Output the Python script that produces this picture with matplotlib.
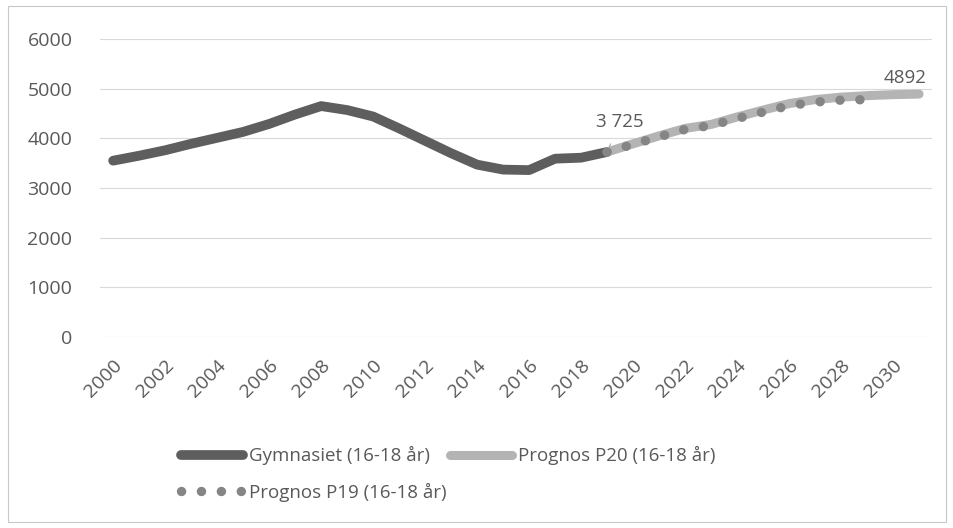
import matplotlib.pyplot as plt
from matplotlib.patches import Rectangle

plt.rcParams['font.family'] = ['Open Sans', 'DejaVu Sans']

years = list(range(2000, 2020))
gymnasiet = [3550, 3650, 3760, 3890, 4010, 4130, 4290, 4480, 4650, 4570, 4440,
             4200, 3950, 3700, 3470, 3370, 3360, 3590, 3610, 3725]

p20_years = list(range(2019, 2032))
p20 = [3725, 3890, 4050, 4200, 4280, 4430, 4570, 4700, 4780, 4830, 4860, 4880, 4892]

p19_years = list(range(2019, 2030))
p19 = [3725, 3880, 4030, 4180, 4260, 4400, 4530, 4660, 4730, 4770, 4780]

tick_years = list(range(2000, 2031, 2))
text_col = '#595959'

fig = plt.figure(figsize=(9.54, 5.28), dpi=100)
ax = fig.add_axes([0.105, 0.362, 0.872, 0.564])

ax.plot(years, gymnasiet, color='#5e5e5e', lw=7, solid_capstyle='round',
        solid_joinstyle='round', label='Gymnasiet (16-18 år)', zorder=3)
ax.plot(p20_years, p20, color='#b4b4b4', lw=6.5, solid_capstyle='round',
        solid_joinstyle='round', label='Prognos P20 (16-18 år)', zorder=4)
ax.plot(p19_years, p19, color='#858585', lw=6.8, linestyle=(0, (0.01, 2.1)),
        dash_capstyle='round', label='Prognos P19 (16-18 år)', zorder=5)

ax.set_xlim(1999.5, 2031.5)
ax.set_ylim(0, 6000)
ax.set_yticks(range(0, 6001, 1000))
ax.set_xticks(tick_years)
ax.set_xticklabels([str(y) for y in tick_years], rotation=45, ha='right',
                   rotation_mode='anchor')
ax.tick_params(axis='both', length=0, labelsize=14, colors=text_col)
ax.tick_params(axis='y', pad=20)
ax.tick_params(axis='x', pad=14)
ax.grid(axis='y', color='#d9d9d9', lw=0.8)
ax.set_axisbelow(True)
for s in ax.spines.values():
    s.set_visible(False)

# data labels
ax.annotate('3 725', xy=(years[-1], gymnasiet[-1]), xytext=(2019.5, 4330),
            ha='center', va='center', fontsize=13.5, color=text_col,
            arrowprops=dict(arrowstyle='-', color='#a0a0a0', lw=0.8,
                            shrinkA=8, shrinkB=2))
ax.text(p20_years[-1] - 0.55, 5220, '4892', ha='center', va='center',
        fontsize=13.5, color=text_col)

h, l = ax.get_legend_handles_labels()
order = [0, 2, 1]
fig.legend([h[i] for i in order], [l[i] for i in order], ncol=2,
           loc='upper left', bbox_to_anchor=(0.19, 0.155), frameon=False,
           fontsize=13.5, labelcolor=text_col, handlelength=3.3,
           handletextpad=0.3, columnspacing=0.2, borderpad=0,
           borderaxespad=0, labelspacing=0.95)

fig.patches.append(Rectangle((0.008, 0.012), 0.984, 0.976, transform=fig.transFigure,
                             fill=False, edgecolor='#c8c8c8', lw=0.8))

fig.savefig('out.png', dpi=100)
